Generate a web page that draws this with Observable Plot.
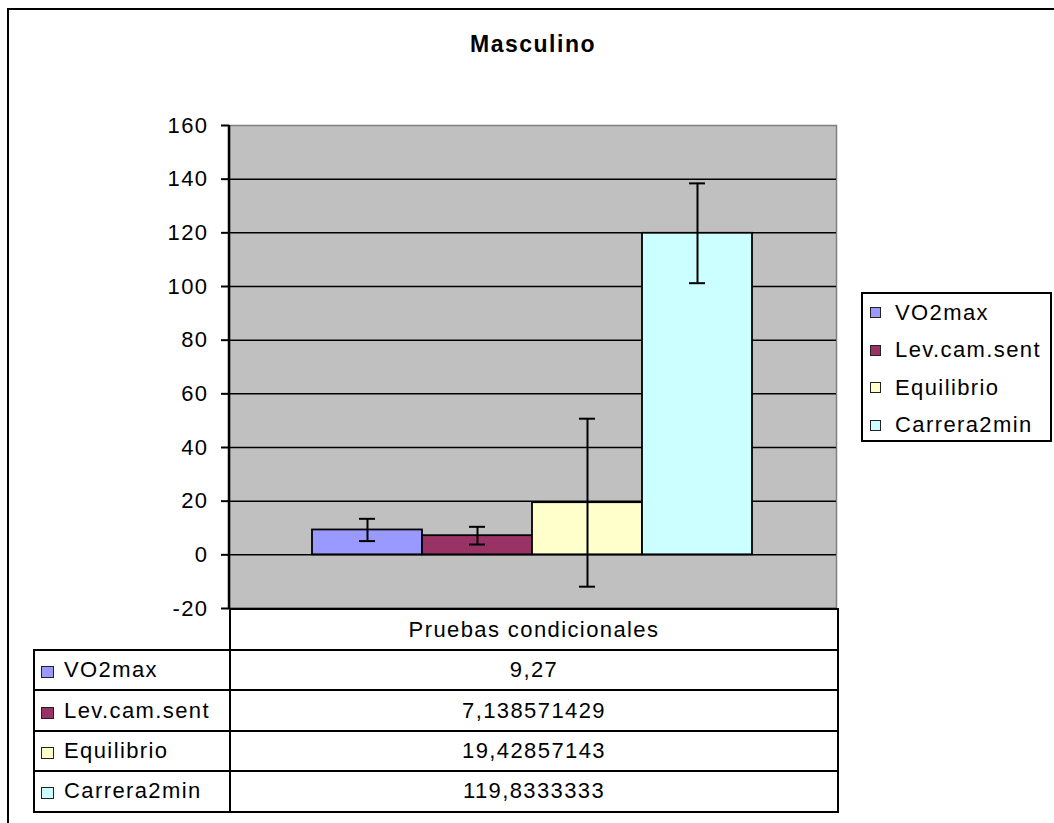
<!DOCTYPE html>
<html>
<head>
<meta charset="utf-8">
<script src="https://cdn.jsdelivr.net/npm/d3@7"></script>
<script src="https://cdn.jsdelivr.net/npm/@observablehq/plot@0.6"></script>
<style>
  html, body { margin: 0; padding: 0; background: #fff; }
  #wrap { position: relative; width: 1054px; height: 823px; overflow: hidden;
          font-family: "Liberation Sans", Arial, sans-serif; letter-spacing: 1.4px; color: #000; }
  #frame { position: absolute; left: 7px; top: 8px; width: 1200px; height: 1000px;
           border: 2px solid #000; box-sizing: border-box; }
  #title { position: absolute; left: 0; width: 1066px; top: 31px; text-align: center;
           font-weight: bold; font-size: 23px; letter-spacing: 1.5px; }
  #chart svg { position: absolute; left: 0; top: 0; }
  #legend { position: absolute; border: 2px solid #000; box-sizing: border-box; background: #fff;
            font-size: 22px; }
  .lrow { display: flex; align-items: center; height: 37.5px; }
  .sw { width: 11px; height: 11px; border: 1px solid #222; box-sizing: border-box; flex: none; }
  #table { position: absolute; border-collapse: collapse; table-layout: fixed; font-size: 22px; }
  #table td { border: 2px solid #000; padding: 0; height: 38.4px; }
  #table td.blank { border: none; }
  #table td.lab { padding-left: 6px; white-space: nowrap; }
  #table td.val { text-align: center; }
  .lab .sw { display: inline-block; width: 13px; height: 12px; margin-right: 10px; vertical-align: -1px; }
</style>
</head>
<body>
<div id="wrap">
  <div id="frame"></div>
  <div id="title"></div>
  <div id="chart"></div>
  <div id="legend"></div>
  <table id="table"></table>
</div>
<script>
const title = "Masculino";
const category = "Pruebas condicionales";
const series = ["VO2max", "Lev.cam.sent", "Equilibrio", "Carrera2min"];
const values = [9.27, 7.138571429, 19.42857143, 119.8333333];
const valueLabels = ["9,27", "7,138571429", "19,42857143", "119,8333333"];
const errors = [4.15, 3.3, 31.3, 18.6];
const colors = ["#9999ff", "#993366", "#ffffcc", "#ccffff"];
const yTicks = [-20, 0, 20, 40, 60, 80, 100, 120, 140, 160];

const data = series.map((name, i) => ({
  name, value: values[i], lo: values[i] - errors[i], hi: values[i] + errors[i]
}));

document.getElementById("title").textContent = title;

const chart = Plot.plot({
  width: 1054,
  height: 823,
  marginLeft: 229,
  marginRight: 218,
  marginTop: 125,
  marginBottom: 215,
  style: { background: "transparent", fontFamily: "'Liberation Sans', Arial, sans-serif",
           fontSize: "22px", letterSpacing: "1.4px", color: "#000", overflow: "visible" },
  x: { domain: series, paddingInner: 0, paddingOuter: 0.74, align: 0.495, axis: null },
  y: { domain: [-20, 160], label: null },
  color: { domain: series, range: colors },
  marks: [
    Plot.frame({ fill: "#c0c0c0", stroke: "#808080", strokeWidth: 1.5 }),
    Plot.ruleY(yTicks.filter(t => t < 160), { stroke: "#000", strokeWidth: 1.5 }),
    Plot.axisY({ ticks: yTicks, tickSize: 8, tickPadding: 13, tickFormat: d => String(d),
                 fontSize: 22, strokeWidth: 2, label: null }),
    Plot.barY(data, { x: "name", y: "value", fill: "name", stroke: "#000", strokeWidth: 1.8 }),
    Plot.ruleX(data, { x: "name", y1: "lo", y2: "hi", stroke: "#000", strokeWidth: 2 }),
    Plot.tickY(data, { x: "name", y: "lo", insetLeft: 47, insetRight: 47, stroke: "#000", strokeWidth: 2 }),
    Plot.tickY(data, { x: "name", y: "hi", insetLeft: 47, insetRight: 47, stroke: "#000", strokeWidth: 2 })
  ]
});
document.getElementById("chart").appendChild(chart);

const xs = chart.scale("x");
const ys = chart.scale("y");
const plotLeft = xs.range[0], plotRight = xs.range[1];
const plotBottom = ys.range[0], plotTop = ys.range[1];

// left value axis line
d3.select(chart).append("line")
  .attr("x1", plotLeft).attr("x2", plotLeft).attr("y1", plotTop).attr("y2", plotBottom)
  .attr("stroke", "#000").attr("stroke-width", 2.5);

// legend
const legend = document.getElementById("legend");
legend.style.left = (plotRight + 25) + "px";
legend.style.top = "292px";
legend.style.width = (1052 - plotRight - 25) + "px";
legend.style.height = "150px";
series.forEach((s, i) => {
  const row = document.createElement("div");
  row.className = "lrow";
  const sw = document.createElement("div");
  sw.className = "sw";
  sw.style.background = colors[i];
  sw.style.marginLeft = "7px";
  sw.style.marginRight = "14px";
  const t = document.createElement("span");
  t.textContent = s;
  row.appendChild(sw); row.appendChild(t);
  legend.appendChild(row);
});

// data table
const table = document.getElementById("table");
const tableLeft = 33;
table.style.left = tableLeft + "px";
table.style.top = plotBottom + "px";
table.style.width = (plotRight - tableLeft + 1) + "px";
const cg = document.createElement("colgroup");
const c1 = document.createElement("col"); c1.style.width = (plotLeft - tableLeft) + "px";
const c2 = document.createElement("col"); c2.style.width = (plotRight - plotLeft + 1) + "px";
cg.appendChild(c1); cg.appendChild(c2); table.appendChild(cg);
const hr = document.createElement("tr");
const hb = document.createElement("td"); hb.className = "blank";
const hc = document.createElement("td"); hc.className = "val"; hc.textContent = category;
hc.style.height = "39px";
hr.appendChild(hb); hr.appendChild(hc); table.appendChild(hr);
series.forEach((s, i) => {
  const tr = document.createElement("tr");
  const a = document.createElement("td"); a.className = "lab";
  const sw = document.createElement("span"); sw.className = "sw"; sw.style.background = colors[i];
  a.appendChild(sw); a.appendChild(document.createTextNode(s));
  const b = document.createElement("td"); b.className = "val"; b.textContent = valueLabels[i];
  tr.appendChild(a); tr.appendChild(b); table.appendChild(tr);
});
</script>
</body>
</html>
